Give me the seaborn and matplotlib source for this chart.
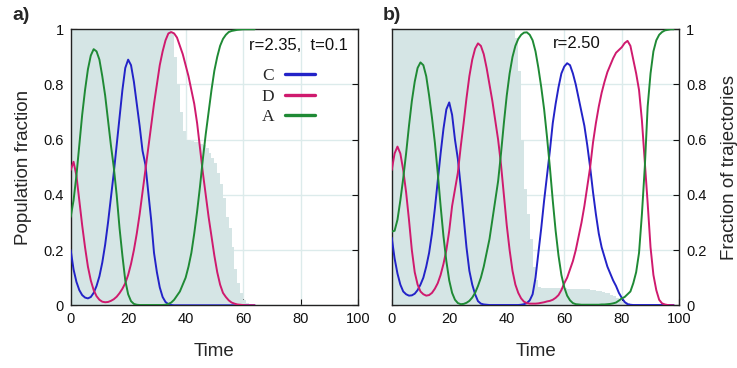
import numpy as np
import pandas as pd
import matplotlib
matplotlib.use("Agg")
import matplotlib.pyplot as plt
from matplotlib.lines import Line2D
import seaborn as sns

# ---------------- data ----------------
series_names = ["C", "D", "A"]
xticks = [0, 20, 40, 60, 80, 100]
yticks = [0, 0.2, 0.4, 0.6, 0.8, 1.0]
ytick_labels = ["0", "0.2", "0.4", "0.6", "0.8", "1"]
title_a = "r=2.35,  t=0.1"
title_b = "r=2.50"

# panel a: time 0..64
a_time = list(range(0, 65))
a_C = [0.20, 0.13, 0.085, 0.055, 0.037, 0.028, 0.025, 0.03, 0.045, 0.07,
       0.105, 0.155, 0.22, 0.30, 0.39, 0.48, 0.58, 0.68, 0.78, 0.86,
       0.89, 0.87, 0.81, 0.73, 0.65, 0.56, 0.51, 0.41, 0.31, 0.19,
       0.12, 0.065, 0.03, 0.012, 0.004, 0.001, 0.0, 0.0, 0.0, 0.0,
       0.0, 0.0, 0.0, 0.0, 0.0, 0.0, 0.0, 0.0, 0.0, 0.0,
       0.0, 0.0, 0.0, 0.0, 0.0, 0.0, 0.0, 0.0, 0.0, 0.0,
       0.0, 0.0, 0.0, 0.0, 0.0]
a_D = [0.49, 0.52, 0.47, 0.38, 0.29, 0.21, 0.14, 0.09, 0.055, 0.033,
       0.02, 0.013, 0.011, 0.012, 0.016, 0.022, 0.031, 0.044, 0.06, 0.08,
       0.11, 0.15, 0.20, 0.26, 0.33, 0.41, 0.49, 0.57, 0.65, 0.73,
       0.80, 0.87, 0.92, 0.96, 0.985, 0.99, 0.985, 0.97, 0.94, 0.91,
       0.87, 0.83, 0.78, 0.73, 0.66, 0.57, 0.48, 0.40, 0.32, 0.25,
       0.18, 0.12, 0.075, 0.045, 0.03, 0.018, 0.01, 0.006, 0.003, 0.002,
       0.001, 0.0, 0.0, 0.0, 0.0]
a_A = [0.32, 0.38, 0.47, 0.58, 0.69, 0.78, 0.855, 0.905, 0.928, 0.92,
       0.89, 0.83, 0.76, 0.67, 0.58, 0.50, 0.40, 0.28, 0.18, 0.09,
       0.04, 0.015, 0.005, 0.002, 0.001, 0.001, 0.001, 0.001, 0.001, 0.001,
       0.001, 0.001, 0.001, 0.002, 0.005, 0.01, 0.02, 0.035, 0.05, 0.075,
       0.10, 0.14, 0.19, 0.26, 0.34, 0.43, 0.53, 0.62, 0.70, 0.78,
       0.85, 0.90, 0.94, 0.965, 0.98, 0.99, 0.994, 0.996, 0.998, 0.999,
       1.0, 1.0, 1.0, 1.0, 1.0]
# fraction of trajectories, bins [t, t+1)
a_bin = list(range(0, 64))
a_frac = [1.0, 1.0, 1.0, 1.0, 1.0, 1.0, 1.0, 1.0, 1.0, 1.0,
          1.0, 1.0, 1.0, 1.0, 1.0, 1.0, 1.0, 1.0, 1.0, 1.0,
          1.0, 1.0, 1.0, 1.0, 1.0, 1.0, 1.0, 1.0, 1.0, 1.0,
          1.0, 1.0, 1.0, 1.0, 1.0, 0.99, 0.90, 0.80, 0.70, 0.63,
          0.60, 0.60, 0.595, 0.59, 0.59, 0.585, 0.58, 0.57, 0.55, 0.535,
          0.515, 0.48, 0.44, 0.39, 0.32, 0.28, 0.21, 0.13, 0.08, 0.044,
          0.02, 0.008, 0.003, 0.001]

# panel b: time 0..98
b_time = list(range(0, 99))
b_C = [0.245, 0.17, 0.115, 0.075, 0.05, 0.04, 0.035, 0.036, 0.042, 0.055,
       0.075, 0.10, 0.14, 0.19, 0.26, 0.35, 0.45, 0.55, 0.64, 0.71,
       0.735, 0.69, 0.60, 0.53, 0.43, 0.32, 0.21, 0.125, 0.075, 0.04,
       0.015, 0.006, 0.003, 0.002, 0.001, 0.001, 0.001, 0.001, 0.001, 0.001,
       0.001, 0.001, 0.001, 0.001, 0.001, 0.002, 0.004, 0.008, 0.018, 0.04,
       0.10, 0.19, 0.28, 0.38, 0.47, 0.56, 0.66, 0.73, 0.79, 0.84,
       0.865, 0.877, 0.87, 0.84, 0.80, 0.75, 0.70, 0.65, 0.58, 0.50,
       0.41, 0.33, 0.26, 0.21, 0.175, 0.14, 0.115, 0.09, 0.07, 0.045,
       0.027, 0.012, 0.004, 0.002, 0.001, 0.001, 0.001, 0.001, 0.001, 0.001,
       0.001, 0.001, 0.001, 0.001, 0.001, 0.001, 0.001, 0.001, 0.001]
b_D = [0.49, 0.55, 0.575, 0.55, 0.49, 0.41, 0.31, 0.20, 0.12, 0.075,
       0.05, 0.04, 0.035, 0.037, 0.045, 0.06, 0.08, 0.11, 0.15, 0.20,
       0.27, 0.36, 0.42, 0.48, 0.575, 0.66, 0.75, 0.83, 0.89, 0.93,
       0.949, 0.94, 0.91, 0.86, 0.80, 0.74, 0.67, 0.60, 0.51, 0.40,
       0.29, 0.20, 0.125, 0.075, 0.045, 0.025, 0.013, 0.008, 0.006, 0.006,
       0.006, 0.007, 0.009, 0.011, 0.014, 0.016, 0.02, 0.027, 0.037, 0.055,
       0.08, 0.10, 0.13, 0.16, 0.20, 0.25, 0.30, 0.36, 0.43, 0.50,
       0.59, 0.66, 0.72, 0.77, 0.81, 0.845, 0.87, 0.895, 0.915, 0.925,
       0.935, 0.95, 0.958, 0.94, 0.89, 0.84, 0.78, 0.67, 0.52, 0.37,
       0.21, 0.11, 0.055, 0.02, 0.007, 0.003, 0.001, 0.0, 0.0]
b_A = [0.267, 0.27, 0.31, 0.38, 0.46, 0.55, 0.65, 0.74, 0.81, 0.86,
       0.88, 0.87, 0.83, 0.76, 0.68, 0.59, 0.48, 0.36, 0.25, 0.16,
       0.09, 0.045, 0.02, 0.008, 0.004, 0.005, 0.009, 0.016, 0.028, 0.045,
       0.07, 0.10, 0.14, 0.19, 0.24, 0.31, 0.38, 0.45, 0.55, 0.66,
       0.76, 0.84, 0.90, 0.94, 0.965, 0.98, 0.988, 0.989, 0.98, 0.96,
       0.92, 0.86, 0.79, 0.71, 0.61, 0.50, 0.38, 0.27, 0.18, 0.11,
       0.065, 0.035, 0.018, 0.008, 0.004, 0.003, 0.002, 0.002, 0.002, 0.002,
       0.002, 0.002, 0.002, 0.003, 0.003, 0.004, 0.005, 0.007, 0.01, 0.017,
       0.025, 0.03, 0.04, 0.05, 0.08, 0.12, 0.19, 0.33, 0.50, 0.72,
       0.84, 0.92, 0.96, 0.98, 0.99, 0.996, 0.998, 1.0, 1.0]
b_bin = list(range(0, 88))
b_frac = [1.0, 1.0, 1.0, 1.0, 1.0, 1.0, 1.0, 1.0, 1.0, 1.0,
          1.0, 1.0, 1.0, 1.0, 1.0, 1.0, 1.0, 1.0, 1.0, 1.0,
          1.0, 1.0, 1.0, 1.0, 1.0, 1.0, 1.0, 1.0, 1.0, 1.0,
          1.0, 1.0, 1.0, 1.0, 1.0, 1.0, 1.0, 1.0, 1.0, 1.0,
          1.0, 1.0, 1.0, 0.97, 0.85, 0.60, 0.42, 0.33, 0.24, 0.14,
          0.09, 0.068, 0.064, 0.062, 0.062, 0.062, 0.062, 0.062, 0.062, 0.062,
          0.062, 0.06, 0.06, 0.06, 0.06, 0.06, 0.06, 0.06, 0.058, 0.057,
          0.055, 0.053, 0.051, 0.049, 0.046, 0.043, 0.039, 0.034, 0.028, 0.022,
          0.016, 0.011, 0.008, 0.006, 0.004, 0.003, 0.002, 0.001]

# ---------------- style ----------------
sns.set_style("white")
plt.rcParams["font.family"] = ["Liberation Sans", "DejaVu Sans"]

palette = {"C": "#2323c8", "D": "#cf1a6e", "A": "#1f8a35"}
shade = "#d5e5e5"
gridc = "#dcebeb"

fig = plt.figure(figsize=(7.37, 3.68), dpi=100)
ax1 = fig.add_axes([0.0959, 0.1704, 0.3899, 0.75])
ax2 = fig.add_axes([0.5315, 0.1704, 0.3902, 0.75])


def draw(ax, time, C, D, A, bins, frac, nbins):
    ax.set_axisbelow(True)
    sns.histplot(x=bins, weights=frac, binwidth=1, binrange=(0, nbins),
                 element="step", fill=True, color=shade, alpha=1,
                 linewidth=0, ax=ax, zorder=1)
    df = pd.DataFrame({
        "t": list(time) * 3,
        "v": list(C) + list(D) + list(A),
        "s": ["C"] * len(time) + ["D"] * len(time) + ["A"] * len(time),
    })
    sns.lineplot(data=df, x="t", y="v", hue="s", hue_order=series_names,
                 palette=palette, estimator=None, lw=1.4, legend=False,
                 ax=ax, zorder=3)
    ax.set_xlim(0, 100)
    ax.set_ylim(0, 1)
    ax.set_xticks(xticks)
    ax.set_xticklabels([str(x) for x in xticks])
    ax.set_yticks(yticks)
    ax.grid(True, color=gridc, lw=1.0)
    for sp in ax.spines.values():
        sp.set_color("#222222")
        sp.set_linewidth(1.0)
    ax.tick_params(direction="in", length=4, width=0.8, labelsize=10.5,
                   colors="#111111", pad=5, left=True, right=True, bottom=True, top=False)
    ax.set_xlabel("Time", fontsize=13.5, labelpad=12)


draw(ax1, a_time, a_C, a_D, a_A, a_bin, a_frac, 64)
draw(ax2, b_time, b_C, b_D, b_A, b_bin, b_frac, 88)

ax1.set_yticklabels(ytick_labels)
ax1.set_ylabel("Population fraction", fontsize=13.5, labelpad=8)
ax1.tick_params(labelleft=True, labelright=False)

ax2.set_yticklabels(ytick_labels)
ax2.tick_params(labelleft=False, labelright=True)
ax2.yaxis.set_label_position("right")
ax2.set_ylabel("Fraction of trajectories", fontsize=13.5, labelpad=10)

ax1.text(0.965, 0.94, title_a, transform=ax1.transAxes, ha="right", va="center",
         fontsize=12, color="#111111")
ax2.text(0.561, 0.95, title_b, transform=ax2.transAxes, ha="left", va="center",
         fontsize=12, color="#111111")

handles = [Line2D([], [], color=palette[s], lw=2.4) for s in series_names]
leg = ax1.legend(handles, series_names, loc="upper right",
                 bbox_to_anchor=(0.85, 0.86), markerfirst=False, frameon=False,
                 prop={"family": ["Liberation Serif"], "size": 12.5},
                 handlelength=1.75, handletextpad=0.6, labelspacing=0.25,
                 borderpad=0, borderaxespad=0)

fig.text(12 / 737, 1 - 15 / 368, "a)", fontsize=14, fontweight="bold",
         ha="left", va="center")
fig.text(383 / 737, 1 - 15 / 368, "b)", fontsize=14, fontweight="bold",
         ha="left", va="center")

fig.savefig("out.png", dpi=100)
